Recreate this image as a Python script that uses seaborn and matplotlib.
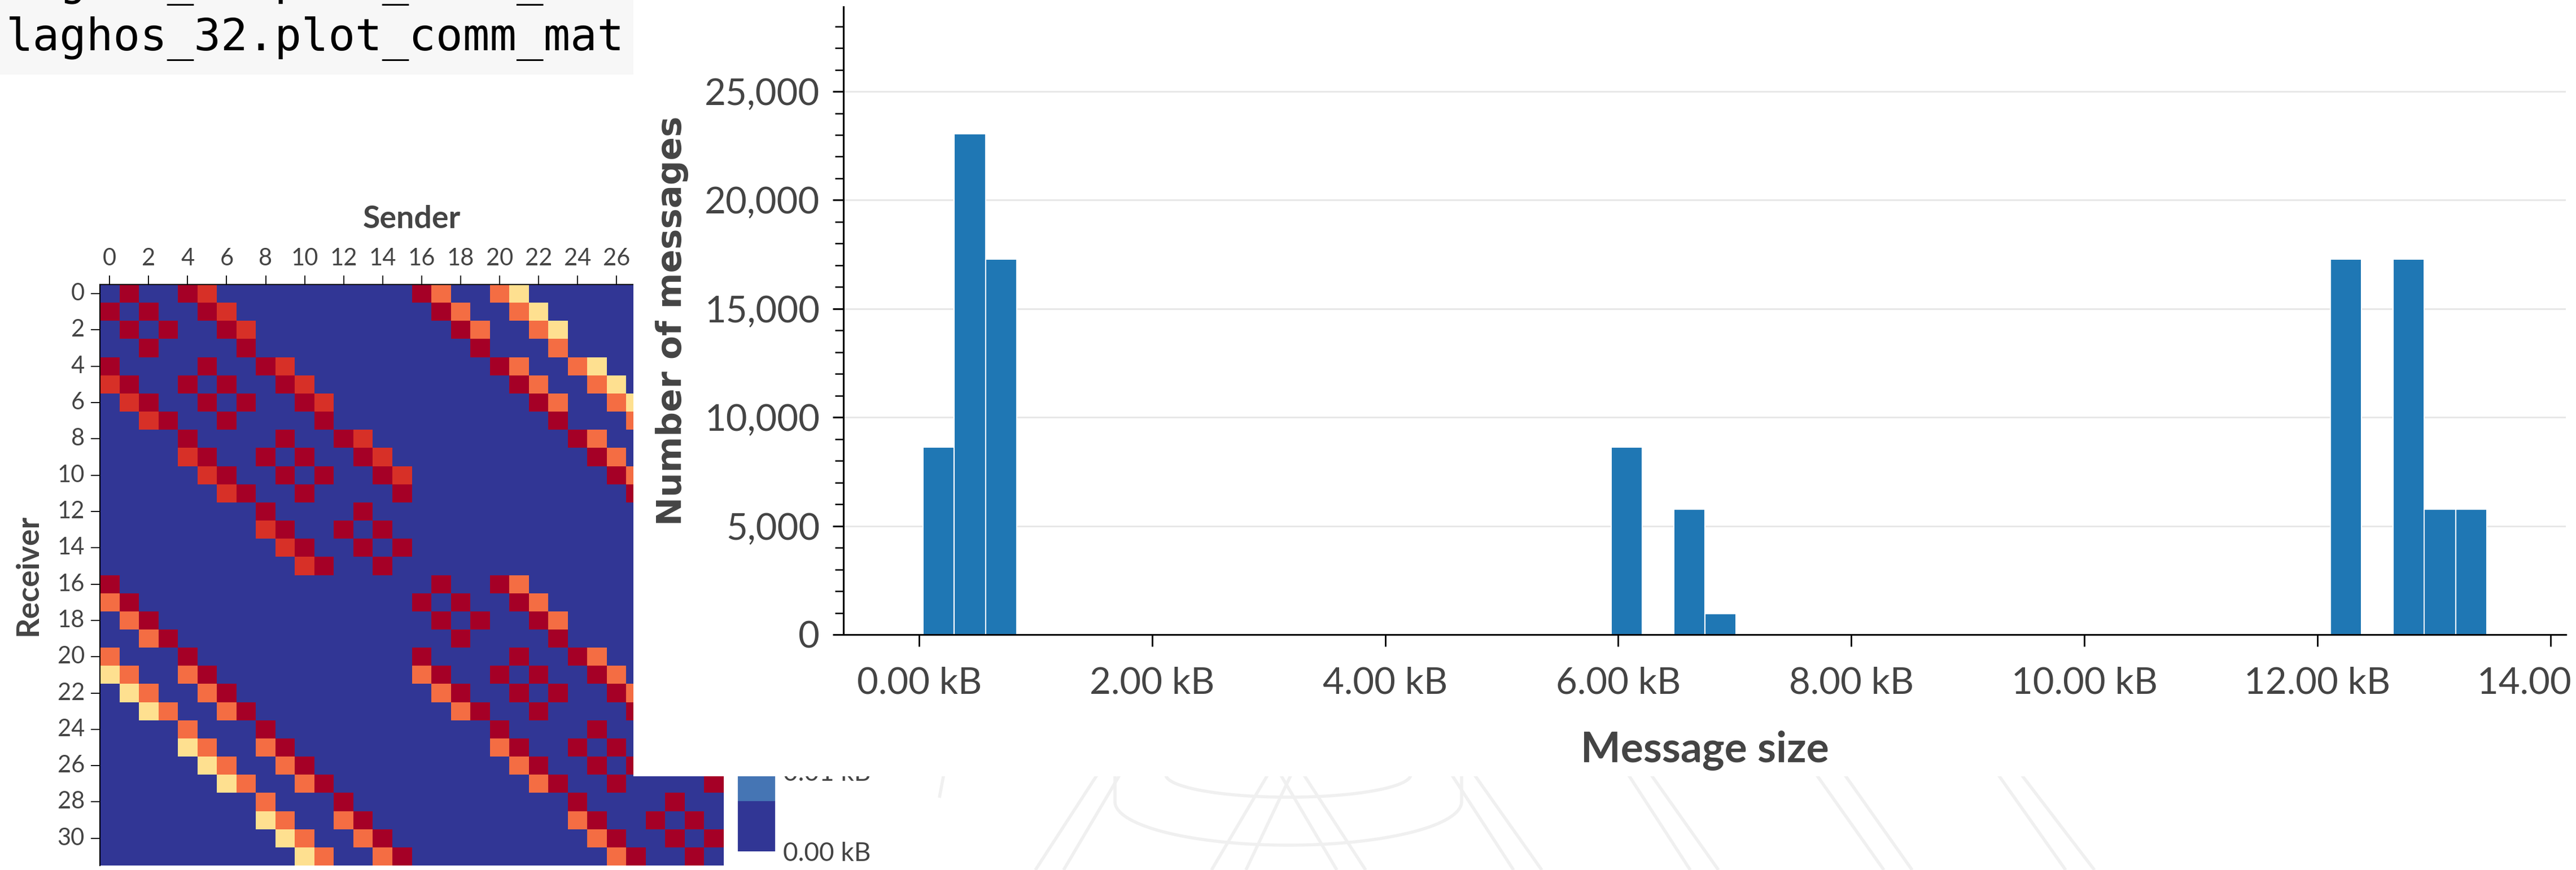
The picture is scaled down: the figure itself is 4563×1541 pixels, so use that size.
import numpy as np
import pandas as pd
import matplotlib
matplotlib.use("Agg")
import matplotlib as mpl
import matplotlib.pyplot as plt
from matplotlib.patches import Rectangle
from matplotlib.ticker import FuncFormatter, MultipleLocator, FixedLocator
import seaborn as sns

# ---------------------------------------------------------------- data
ranks = list(range(32))

# Communication matrix, one string per receiver row, one character per sender.
# '.' = no traffic, Y/O/R/D = increasing volume.
comm_rows = [
    ".D..DR.........." + "DO..OY..........",
    "D.D..DR........." + ".DO..OY.........",
    ".D.D..DR........" + "..DO..OY........",
    "..D....D........" + "...D...O........",
    "D....D..DR......" + "....DO..OY......",
    "RD..D.D..DR....." + ".....DO..OY.....",
    ".RD..D.D..DR...." + "......DO..OY....",
    "..RD..D....D...." + ".......D...O....",
    "....D....D..DR.." + "........DO..OY..",
    "....RD..D.D..DR." + ".........DO..OY.",
    ".....RD..D.D..DR" + "..........DO..OY",
    "......RD..D....D" + "...........D...O",
    "........D....D.." + "............DO..",
    "........RD..D.D." + ".............DO.",
    ".........RD..D.D" + "..............DO",
    "..........RD..D." + "...............D",
    "D..............." + ".D..DO..........",
    "OD.............." + "D.D..DO.........",
    ".OD............." + ".D.D..DO........",
    "..OD............" + "..D....D........",
    "O...D..........." + "D....D..DO......",
    "YO..OD.........." + "OD..D.D..DO.....",
    ".YO..OD........." + ".OD..D.D..DO....",
    "..YO..OD........" + "..OD..D....D....",
    "....O...D......." + "....D....D..DO..",
    "....YO..OD......" + "....OD..D.D..DO.",
    ".....YO..OD....." + ".....OD..D.D..DO",
    "......YO..OD...." + "......OD..D....D",
    "........O...D..." + "........D....D..",
    "........YO..OD.." + "........OD..D.D.",
    ".........YO..OD." + ".........OD..D.D",
    "..........YO..OD" + "..........OD..D.",
]
level_kb = {".": 0.0, "Y": 0.041, "O": 0.053, "R": 0.060, "D": 0.068}
cbar_max_kb = 0.0689
cbar_ticks_kb = [0.00, 0.01]
sender_ticks_shown = [0, 2, 4, 6, 8, 10, 12, 14, 16, 18, 20, 22, 24, 26]

# Message-size histogram: one representative size per occupied bin and its count
msg_size_kb = [0.17, 0.44, 0.71, 6.08, 6.61, 6.88, 12.25, 12.79, 13.06, 13.33]
msg_count = [8640, 23040, 17280, 8640, 5760, 960, 17280, 17280, 5760, 5760]
n_bins = 50
size_range_kb = (0.032, 13.455)
size_ticks_kb = [0, 2, 4, 6, 8, 10, 12, 14]
count_ticks = [0, 5000, 10000, 15000, 20000, 25000]

code_line = "laghos_32.plot_comm_mat"

# ---------------------------------------------------------------- figure
W, H, DPI = 4563, 1541, 100
sns.set_theme(style="white")
plt.rcParams["font.family"] = ["Lato", "DejaVu Sans"]
TXT = "#444444"

fig = plt.figure(figsize=(W / DPI, H / DPI), dpi=DPI, facecolor="white")


def fx(px):
    return px / W


def fy(py):
    return 1 - py / H


def box(x0, y0, x1, y1):
    return [fx(x0), fy(y1), (x1 - x0) / W, (y1 - y0) / H]


# faint background emblem in the lower strip
bg = fig.add_axes([0, 0, 1, 1], zorder=-1)
bg.set_xlim(0, W)
bg.set_ylim(H, 0)
bg.axis("off")
wm = dict(color="#f0f0f0", lw=4, solid_capstyle="butt")
for (x0, x1) in [(1945, 1834), (1985, 1884), (2247, 2146), (2288, 2207),
                 (2267, 2368), (2308, 2419), (2570, 2681), (2610, 2731),
                 (2883, 2994), (2923, 3044), (3216, 3337), (3266, 3387),
                 (3538, 3659), (3579, 3710)]:
    bg.plot([x0, x1], [1370, 1541], **wm)
t = np.linspace(0, np.pi, 100)
bg.plot(2282 - 217 * np.cos(t), 1372 + 40 * np.sin(t), **wm)
bg.plot(np.r_[1975, 2282 - 307 * np.cos(t), 2589],
        np.r_[1370, 1420 + 77 * np.sin(t), 1370], **wm)
bg.plot([1672, 1664], [1370, 1413], **wm)

# code cell strip
fig.patches.append(Rectangle((0, fy(132)), fx(1123), 132 / H,
                             transform=fig.transFigure, facecolor="#f7f7f7",
                             edgecolor="none", zorder=0.5))
for base in (-9, 89):
    fig.text(fx(11), fy(base), code_line, family="DejaVu Sans Mono",
             fontsize=57, color="black", ha="left", va="baseline", zorder=0.6)

# ---------------------------------------------------------------- heatmap
comm = pd.DataFrame([[level_kb[c] for c in row] for row in comm_rows],
                    index=ranks, columns=ranks)
hax = fig.add_axes(box(177, 504, 1282, 1533), zorder=0)
cax = fig.add_axes(box(1307, 529, 1373, 1508), zorder=0)
cmap = mpl.colormaps["RdYlBu_r"].resampled(11)
sns.heatmap(comm, ax=hax, cmap=cmap, vmin=0, vmax=cbar_max_kb, cbar_ax=cax,
            xticklabels=2, yticklabels=2)

hax.xaxis.tick_top()
hax.xaxis.set_label_position("top")
hax.set_xticks([r + 0.5 for r in sender_ticks_shown])
hax.set_xticklabels([str(r) for r in sender_ticks_shown], rotation=0)
hax.tick_params(axis="x", top=True, bottom=False, labeltop=True,
                labelbottom=False, length=11.5, width=1.3, color="black",
                labelsize=30, labelcolor=TXT, pad=8)
hax.tick_params(axis="y", left=True, length=11.5, width=1.3, color="black",
                labelsize=30, labelcolor=TXT, pad=8)
for lab in hax.get_yticklabels():
    lab.set_rotation(0)
for side in ("top", "left"):
    hax.spines[side].set_visible(True)
    hax.spines[side].set_color("black")
    hax.spines[side].set_linewidth(1.5)
hax.set_xlabel("Sender", fontsize=40, fontweight="bold", color=TXT,
               va="baseline")
hax.xaxis.set_label_coords(0.5, (1533 - 404) / 1029)
hax.set_ylabel("Receiver", fontsize=40, fontweight="bold", color=TXT,
               va="baseline", ha="center")
hax.yaxis.set_label_coords((66 - 177) / 1105, 0.5)

cbar = hax.collections[0].colorbar
cbar.outline.set_visible(False)
cbar.set_ticks(cbar_ticks_kb)
cbar.ax.yaxis.set_major_formatter(FuncFormatter(lambda v, p: f"{v:.2f} kB"))
cbar.ax.tick_params(length=0, labelsize=33, labelcolor=TXT, pad=10)

# white panel holding the histogram
fig.patches.append(Rectangle((fx(1122), fy(1375)), 1 - fx(1122), 1375 / H,
                             transform=fig.transFigure, facecolor="white",
                             edgecolor="none", zorder=1))

# ---------------------------------------------------------------- histogram
ax = fig.add_axes(box(1494, 12, 4545, 1124), zorder=2)
ax.set_facecolor("none")
sns.histplot(x=msg_size_kb, weights=msg_count, bins=n_bins,
             binrange=size_range_kb, color="#1f77b4", alpha=1,
             edgecolor="white", linewidth=1.5, ax=ax)
ax.set_xlim(-0.650, 14.133)
ax.set_ylim(0, 28900)
ax.xaxis.set_major_locator(FixedLocator(size_ticks_kb))
ax.yaxis.set_major_locator(FixedLocator(count_ticks))
ax.yaxis.set_minor_locator(MultipleLocator(1000))
ax.xaxis.set_major_formatter(FuncFormatter(lambda v, p: f"{v:.2f} kB"))
ax.yaxis.set_major_formatter(FuncFormatter(lambda v, p: f"{v:,.0f}"))
ax.yaxis.grid(True, color="#e6e6e6", lw=2)
ax.xaxis.grid(False)
ax.set_axisbelow(True)
for side in ("top", "right"):
    ax.spines[side].set_visible(False)
for side in ("left", "bottom"):
    ax.spines[side].set_visible(True)
    ax.spines[side].set_color("black")
    ax.spines[side].set_linewidth(2.2)
ax.tick_params(axis="x", which="major", bottom=True, direction="out",
               length=15, width=2.0, color="black", labelsize=47,
               labelcolor=TXT, pad=26)
ax.tick_params(axis="y", which="major", left=True, direction="out",
               length=14, width=2.2, color="black", labelsize=47,
               labelcolor=TXT, pad=16)
ax.tick_params(axis="y", which="minor", left=True, direction="out",
               length=11, width=1.8, color="black")
ax.set_xlabel("Message size", fontsize=54, fontweight="bold", color=TXT,
              va="baseline")
ax.xaxis.set_label_coords(0.5, (1124 - 1350) / 1112)
ax.set_ylabel("Number of messages", family="DejaVu Sans", fontsize=44,
              fontweight="bold", color=TXT, va="center", ha="center")
ax.yaxis.set_label_coords((1190 - 1494) / 3051, 0.5)

fig.savefig("out.png", dpi=DPI, facecolor="white")
